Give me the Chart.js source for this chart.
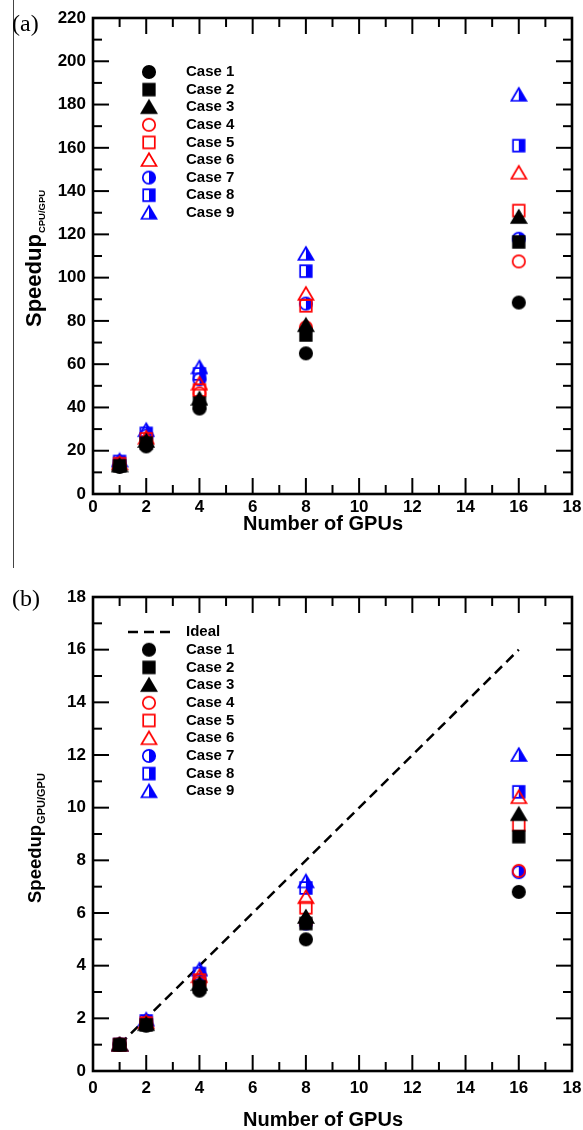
<!DOCTYPE html>
<html><head><meta charset="utf-8">
<script src="https://cdn.jsdelivr.net/npm/chart.js@4/dist/chart.umd.min.js"></script>
<style>
body{margin:0;background:#fff;width:583px;height:1130px;position:relative;overflow:hidden}
canvas{position:absolute;left:0}
.pl{position:absolute;font-family:'Liberation Serif',serif;font-size:24px;line-height:1;color:#000}
</style></head>
<body>
<canvas id="c1" width="583" height="545" style="top:0"></canvas>
<canvas id="c2" width="583" height="570" style="top:560px"></canvas>
<div style="position:absolute;left:13px;top:0;width:1px;height:568px;background:#444"></div>
<div class="pl" style="left:12px;top:11px">(a)</div>
<div class="pl" style="left:12px;top:586px">(b)</div>
<script>
// ---- data ----
const gpus = [1, 2, 4, 8, 16];
const caseLabels = ['Case 1','Case 2','Case 3','Case 4','Case 5','Case 6','Case 7','Case 8','Case 9'];
// Speedup CPU/GPU
const cpuCase1 = [12.5, 22, 39.5, 65, 88.5];
const cpuCase2 = [13, 23.5, 42, 73.5, 116.5];
const cpuCase3 = [13.2, 24.5, 44, 78, 128];
const cpuCase4 = [13.5, 24, 46.5, 77, 107.5];
const cpuCase5 = [14, 25.5, 48, 87, 131];
const cpuCase6 = [14.2, 26, 51, 92.5, 148.5];
const cpuCase7 = [14.5, 27, 53, 88, 118];
const cpuCase8 = [15, 28, 55.5, 103, 161];
const cpuCase9 = [15.5, 29.5, 58.5, 111, 184.5];
// Speedup GPU/GPU
const gpuCase1 = [1, 1.72, 3.05, 5.0, 6.8];
const gpuCase2 = [1, 1.75, 3.2, 5.6, 8.9];
const gpuCase3 = [1, 1.78, 3.3, 5.85, 9.75];
const gpuCase4 = [1, 1.8, 3.35, 5.65, 7.6];
const gpuCase5 = [1, 1.82, 3.45, 6.2, 9.35];
const gpuCase6 = [1, 1.85, 3.6, 6.6, 10.4];
const gpuCase7 = [1, 1.87, 3.45, 5.6, 7.55];
const gpuCase8 = [1, 1.9, 3.7, 6.95, 10.6];
const gpuCase9 = [1, 1.95, 3.85, 7.2, 12.0];
const idealGpus = [1, 16];
const idealSpeedup = [1, 16];
const idealLabel = 'Ideal';

const FONT = "'Liberation Sans', Arial, sans-serif";

function makeMarker(shape, color, fill) {
  const S = 18, c = document.createElement('canvas'); c.width = S; c.height = S;
  const g = c.getContext('2d'); const m = S / 2;
  const path = () => {
    g.beginPath();
    if (shape === 'circle') g.arc(m, m, 6.2, 0, Math.PI * 2);
    else if (shape === 'square') g.rect(m - 5.8, m - 5.8, 11.6, 11.6);
    else { g.moveTo(m, m - 6.8); g.lineTo(m + 7.5, m + 6); g.lineTo(m - 7.5, m + 6); g.closePath(); }
  };
  g.lineWidth = 1.7; g.strokeStyle = color; g.fillStyle = color;
  if (fill === 'full') { path(); g.fill(); }
  else if (fill === 'right') { g.save(); g.beginPath(); g.rect(m, 0, m, S); g.clip(); path(); g.fill(); g.restore(); }
  path(); g.stroke();
  return c;
}
const markers = [
  makeMarker('circle', '#000', 'full'),
  makeMarker('square', '#000', 'full'),
  makeMarker('triangle', '#000', 'full'),
  makeMarker('circle', '#ff0000', 'none'),
  makeMarker('square', '#ff0000', 'none'),
  makeMarker('triangle', '#ff0000', 'none'),
  makeMarker('circle', '#0000ff', 'right'),
  makeMarker('square', '#0000ff', 'right'),
  makeMarker('triangle', '#0000ff', 'right')
];

function pts(ys) { return gpus.map((g, i) => ({ x: g, y: ys[i] })); }

const deco = {
  id: 'deco',
  beforeDatasetsDraw(chart, args, o) {
    const { ctx, chartArea: a, scales: { x, y } } = chart;
    ctx.save();
    ctx.strokeStyle = '#000';
    ctx.lineWidth = 2;
    const line = (x1, y1, x2, y2) => { ctx.beginPath(); ctx.moveTo(x1, y1); ctx.lineTo(x2, y2); ctx.stroke(); };
    for (let v = x.min + o.xMinor; v < x.max; v += o.xMinor) {
      const px = x.getPixelForValue(v);
      const len = (Math.abs(v / o.xMajor - Math.round(v / o.xMajor)) < 1e-6) ? 16 : 9;
      line(px, a.bottom, px, a.bottom - len);
      line(px, a.top, px, a.top + len);
    }
    for (let v = y.min + o.yMinor; v < y.max; v += o.yMinor) {
      const py = y.getPixelForValue(v);
      const len = (Math.abs(v / o.yMajor - Math.round(v / o.yMajor)) < 1e-6) ? 16 : 9;
      line(a.left, py, a.left + len, py);
      line(a.right, py, a.right - len, py);
    }
    ctx.lineWidth = 2.6;
    ctx.strokeRect(a.left, a.top, a.right - a.left, a.bottom - a.top);
    ctx.restore();
  },
  afterDraw(chart, args, o) {
    const { ctx } = chart;
    ctx.save();
    ctx.fillStyle = '#000';
    // legend
    ctx.font = 'bold 15px ' + FONT;
    ctx.textBaseline = 'middle'; ctx.textAlign = 'left';
    let row = 0;
    if (o.ideal) {
      ctx.strokeStyle = '#000'; ctx.lineWidth = 2.5; ctx.setLineDash([10, 6]);
      ctx.beginPath(); ctx.moveTo(128, o.legY); ctx.lineTo(172, o.legY); ctx.stroke();
      ctx.setLineDash([]);
      ctx.fillText(idealLabel, 186, o.legY);
      row = 1;
    }
    caseLabels.forEach((lab, i) => {
      const yy = o.legY + (row + i) * o.legStep;
      ctx.drawImage(markers[i], 149 - 9, yy - 9);
      ctx.fillText(lab, 186, yy);
    });
    // x title
    ctx.textAlign = 'center';
    ctx.font = 'bold 20px ' + FONT;
    ctx.fillText('Number of GPUs', 323, o.xTitleY);
    // y title with subscript
    ctx.translate(41, o.yTitleStart);
    ctx.rotate(-Math.PI / 2);
    ctx.textAlign = 'left'; ctx.textBaseline = 'alphabetic';
    ctx.font = 'bold ' + o.yFont + 'px ' + FONT;
    ctx.fillText('Speedup', 0, 0);
    const w = ctx.measureText('Speedup').width;
    ctx.font = 'bold ' + o.subFont + 'px ' + FONT;
    ctx.fillText(o.sub, w + 1, 4);
    ctx.restore();
  }
};

function makeChart(id, datasets, cfg) {
  return new Chart(document.getElementById(id), {
    type: 'scatter',
    data: { datasets },
    plugins: [deco],
    options: {
      responsive: false, animation: false, devicePixelRatio: 1,
      layout: { padding: { left: 0, top: cfg.top, right: 11, bottom: 0 } },
      plugins: { legend: { display: false }, tooltip: { enabled: false }, deco: cfg.deco },
      scales: {
        x: {
          type: 'linear', min: 0, max: 18,
          ticks: { stepSize: 2, color: '#000', font: { family: FONT, weight: 'bold', size: 17 }, padding: cfg.xPad, maxRotation: 0 },
          grid: { display: false, drawTicks: false },
          border: { display: false },
          afterFit: s => { s.height = cfg.xH; s.paddingRight = 0; s.paddingLeft = 0; }
        },
        y: {
          type: 'linear', min: 0, max: cfg.yMax,
          ticks: { stepSize: cfg.yStep, color: '#000', font: { family: FONT, weight: 'bold', size: 17 }, padding: 7 },
          grid: { display: false, drawTicks: false },
          border: { display: false },
          afterFit: s => { s.width = 93; s.paddingTop = 0; s.paddingBottom = 0; }
        }
      }
    }
  });
}

const cpuSeries = [cpuCase1, cpuCase2, cpuCase3, cpuCase4, cpuCase5, cpuCase6, cpuCase7, cpuCase8, cpuCase9];
const gpuSeries = [gpuCase1, gpuCase2, gpuCase3, gpuCase4, gpuCase5, gpuCase6, gpuCase7, gpuCase8, gpuCase9];

const ds1 = cpuSeries.map((s, i) => ({ label: caseLabels[i], data: pts(s), pointStyle: markers[i], pointRadius: 7 }));
makeChart('c1', ds1, {
  top: 18, xH: 51, xPad: 3, yMax: 220, yStep: 20,
  deco: { xMinor: 1, xMajor: 2, yMinor: 10, yMajor: 20, legY: 72, legStep: 17.6, ideal: false,
          xTitleY: 524, yTitleStart: 327, yFont: 22, subFont: 9.5, sub: 'CPU/GPU' }
});

const ds2 = gpuSeries.map((s, i) => ({ label: caseLabels[i], data: pts(s), pointStyle: markers[i], pointRadius: 7 }));
ds2.push({ label: idealLabel, data: idealGpus.map((g, i) => ({ x: g, y: idealSpeedup[i] })), showLine: true,
           borderColor: '#000', borderWidth: 2.5, borderDash: [10, 6], pointRadius: 0, order: 10 });
makeChart('c2', ds2, {
  top: 37, xH: 59, xPad: 7, yMax: 18, yStep: 2,
  deco: { xMinor: 1, xMajor: 2, yMinor: 1, yMajor: 2, legY: 72, legStep: 17.7, ideal: true,
          xTitleY: 560, yTitleStart: 343, yFont: 18.5, subFont: 11, sub: 'GPU/GPU' }
});
</script>
</body></html>
